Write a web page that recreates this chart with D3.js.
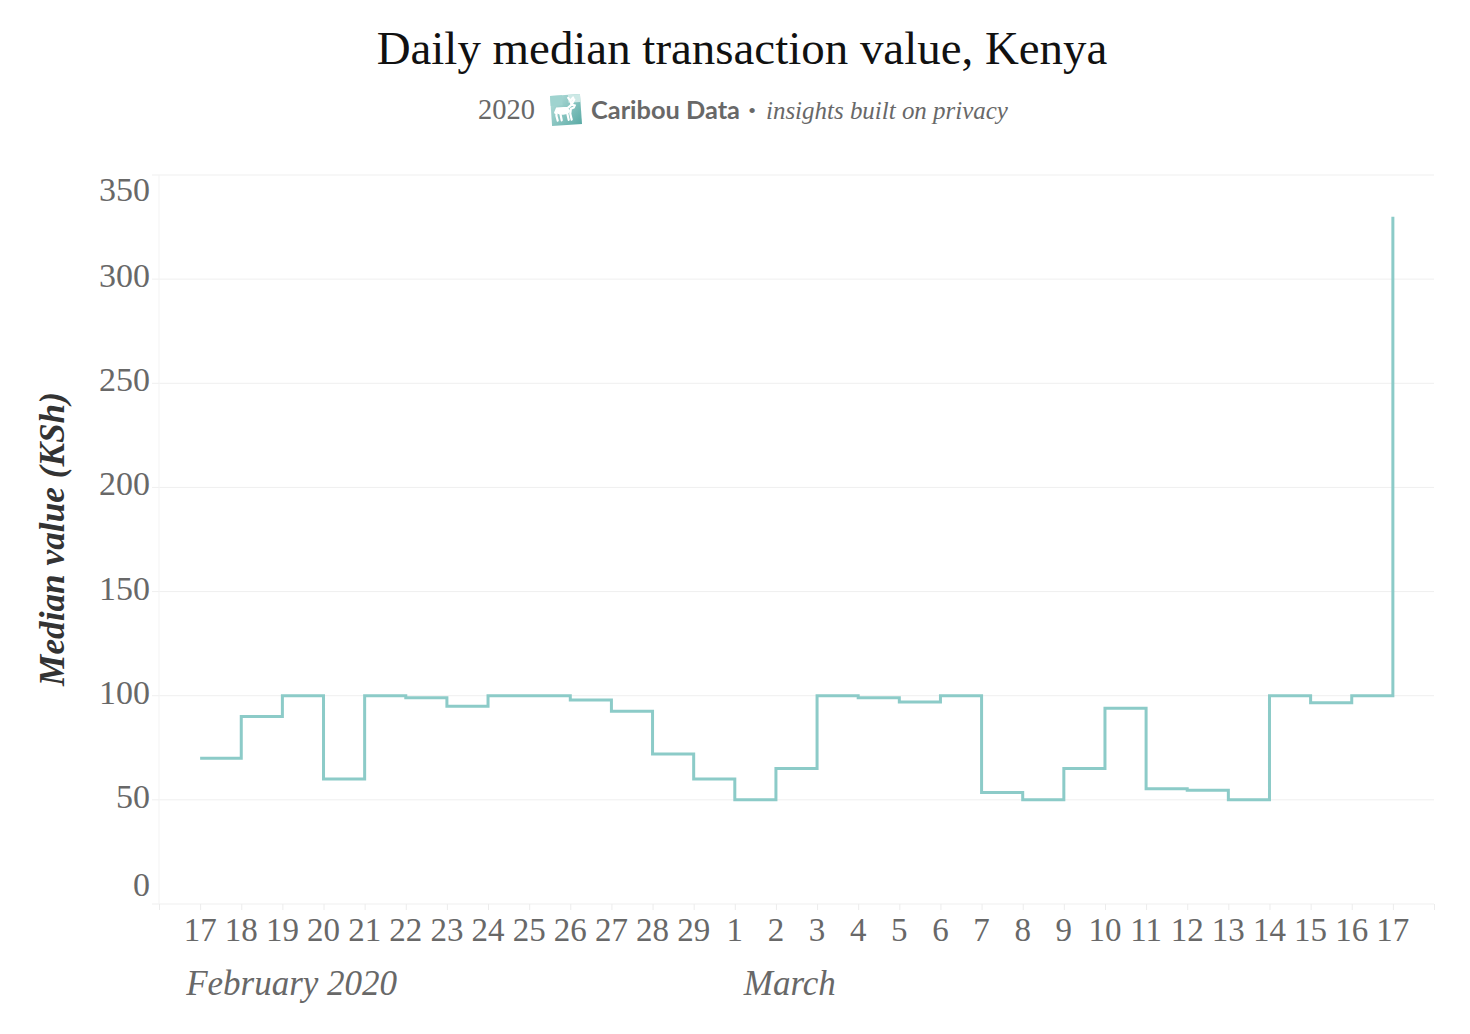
<!DOCTYPE html>
<html>
<head>
<meta charset="utf-8">
<script src="https://cdn.jsdelivr.net/npm/d3@7"></script>
<style>
  html, body { margin: 0; padding: 0; background: #fff; }
  svg { display: block; }
</style>
</head>
<body>
<svg id="chart" width="1470" height="1034"></svg>
<script>
// ---- data ----
const dates = [
  "2020-02-17","2020-02-18","2020-02-19","2020-02-20","2020-02-21","2020-02-22","2020-02-23",
  "2020-02-24","2020-02-25","2020-02-26","2020-02-27","2020-02-28","2020-02-29",
  "2020-03-01","2020-03-02","2020-03-03","2020-03-04","2020-03-05","2020-03-06","2020-03-07",
  "2020-03-08","2020-03-09","2020-03-10","2020-03-11","2020-03-12","2020-03-13","2020-03-14",
  "2020-03-15","2020-03-16","2020-03-17"
];
const dayLabels = ["17","18","19","20","21","22","23","24","25","26","27","28","29",
  "1","2","3","4","5","6","7","8","9","10","11","12","13","14","15","16","17"];
const medianValues = [70, 90, 100, 60, 100, 99, 95, 100, 100, 98, 92.6, 72, 60,
  50, 65, 100, 99, 97, 100, 53.5, 50, 65, 94, 55.3, 54.6, 50, 100, 96.6, 100, 330];
const yTicks = [0, 50, 100, 150, 200, 250, 300, 350];
const monthLabels = [{label: "February 2020", date: "2020-02-17"}, {label: "March", date: "2020-03-01"}];

const title = "Daily median transaction value, Kenya";
const yTitle = "Median value (KSh)";

// ---- setup ----
const svg = d3.select("#chart");
const parse = d3.utcParse("%Y-%m-%d");
const data = dates.map((d, i) => ({date: parse(d), value: medianValues[i], label: dayLabels[i]}));

const dayMs = 864e5;
const x = d3.scaleUtc()
  .domain([new Date(data[0].date - dayMs), new Date(+data[data.length - 1].date + dayMs)])
  .range([159, 1434]);
const y = d3.scaleLinear().domain([0, 350]).range([904, 175]);

const grey = "#686868";
const serif = "'Liberation Serif', 'Times New Roman', serif";

function fitWidth(sel, target) {
  const w = sel.node().getComputedTextLength();
  const fs = parseFloat(sel.attr("font-size"));
  sel.attr("font-size", fs * target / w);
}

// ---- title ----
const t = svg.append("text")
  .attr("x", 742).attr("y", 64)
  .attr("text-anchor", "middle")
  .attr("font-family", serif).attr("font-size", 40)
  .attr("fill", "#111")
  .text(title);
fitWidth(t, 731);

// ---- subtitle ----
const sub = svg.append("g");
const s1 = sub.append("text").attr("x", 478).attr("y", 119)
  .attr("font-family", serif).attr("font-size", 28).attr("fill", grey).text("2020");
fitWidth(s1, 57);

// logo
const logo = sub.append("g").attr("transform", "translate(566,110) rotate(-4)");
const lg = svg.append("defs").append("linearGradient").attr("id", "lg")
  .attr("x1", 0).attr("y1", 0).attr("x2", 1).attr("y2", 1);
lg.append("stop").attr("offset", 0).attr("stop-color", "#b9e0dd");
lg.append("stop").attr("offset", 1).attr("stop-color", "#5aaaa5");
logo.append("rect").attr("x", -15).attr("y", -15).attr("width", 30).attr("height", 30)
  .attr("fill", "url(#lg)");
logo.append("rect").attr("x", -15).attr("y", -15).attr("width", 12).attr("height", 10).attr("fill", "#9fd3cf");
logo.append("rect").attr("x", 3).attr("y", -15).attr("width", 12).attr("height", 8).attr("fill", "#cde9e6");
logo.append("path")
  .attr("d", "M-11,2 L-9,-2 L2,-2 L6,-5 L5,-9 L3,-12 M6,-5 L9,-10 M5,-9 L8,-12 M6,-5 L9,-4 L8,-2 L5,-1 L4,4 L5,10 M-9,-2 L-10,5 L-9,10 M-6,2 L-5,10 M1,3 L2,10")
  .attr("fill", "none").attr("stroke", "#fff").attr("stroke-width", 2.2).attr("stroke-linecap", "round");
logo.append("ellipse").attr("cx", -3).attr("cy", 1).attr("rx", 7).attr("ry", 3.5).attr("fill", "#fff");

const s2 = sub.append("text").attr("x", 591).attr("y", 119)
  .attr("font-family", "Lato, 'Noto Sans', sans-serif").attr("font-weight", 700)
  .attr("font-size", 22).attr("fill", grey).text("Caribou Data");
fitWidth(s2, 149);
sub.append("text").attr("x", 752).attr("y", 118).attr("text-anchor", "middle")
  .attr("font-family", serif).attr("font-size", 22).attr("fill", grey).text("•");
const s3 = sub.append("text").attr("x", 766).attr("y", 119)
  .attr("font-family", serif).attr("font-style", "italic")
  .attr("font-size", 25).attr("fill", grey).text("insights built on privacy");
fitWidth(s3, 242);

// ---- grid ----
const grid = svg.append("g");
grid.selectAll("line.h").data(yTicks).join("line")
  .attr("class", "h")
  .attr("x1", 152).attr("x2", 1434)
  .attr("y1", d => y(d)).attr("y2", d => y(d))
  .attr("stroke", "#efefef").attr("stroke-width", 1);
grid.append("line")
  .attr("x1", x.range()[0]).attr("x2", x.range()[0])
  .attr("y1", y(350)).attr("y2", y(0))
  .attr("stroke", "#f3f3f3");

// x axis (ticks only)
const xAxis = d3.axisBottom(x)
  .ticks(d3.utcDay.every(1))
  .tickSize(6)
  .tickFormat("");
const xg = svg.append("g").attr("transform", `translate(0,${y(0)})`).call(xAxis);
xg.select(".domain").remove();
xg.selectAll(".tick line").attr("stroke", "#ececec");

// x tick labels
svg.append("g").selectAll("text").data(data).join("text")
  .attr("x", d => x(d.date))
  .attr("y", 941)
  .attr("text-anchor", "middle")
  .attr("font-family", serif).attr("font-size", 33)
  .attr("fill", grey)
  .text(d => d.label);

// month labels
const monthOffsets = {"February 2020": -14, "March": 9};
svg.append("g").selectAll("text").data(monthLabels).join("text")
  .attr("x", d => x(parse(d.date)) + monthOffsets[d.label])
  .attr("y", 995)
  .attr("font-family", serif).attr("font-style", "italic").attr("font-size", 35)
  .attr("fill", grey)
  .text(d => d.label);

// y axis labels
const yAxis = d3.axisLeft(y).tickValues(yTicks).tickSize(0).tickPadding(0);
const yg = svg.append("g").attr("transform", "translate(150,0)").call(yAxis);
yg.select(".domain").remove();
yg.selectAll(".tick text")
  .attr("font-family", serif).attr("font-size", 34)
  .attr("fill", grey)
  .attr("dy", d => d === 350 ? "0.85em" : d === 0 ? "-0.25em" : "0.22em")
  .attr("y", d => d === 350 ? -3 : 0);

// y title
const yt = svg.append("text")
  .attr("transform", `translate(52,539) rotate(-90)`)
  .attr("text-anchor", "middle")
  .attr("dominant-baseline", "central")
  .attr("font-family", serif).attr("font-style", "italic").attr("font-weight", 700)
  .attr("font-size", 32).attr("fill", "#333")
  .text(yTitle);
fitWidth(yt, 294);

// ---- step line ----
const line = d3.line()
  .x(d => x(d.date))
  .y(d => y(d.value))
  .curve(d3.curveStepAfter);
svg.append("path")
  .datum(data)
  .attr("d", line)
  .attr("fill", "none")
  .attr("stroke", "#8ccbc8")
  .attr("stroke-width", 3)
  .attr("stroke-linejoin", "miter");
</script>
</body>
</html>
